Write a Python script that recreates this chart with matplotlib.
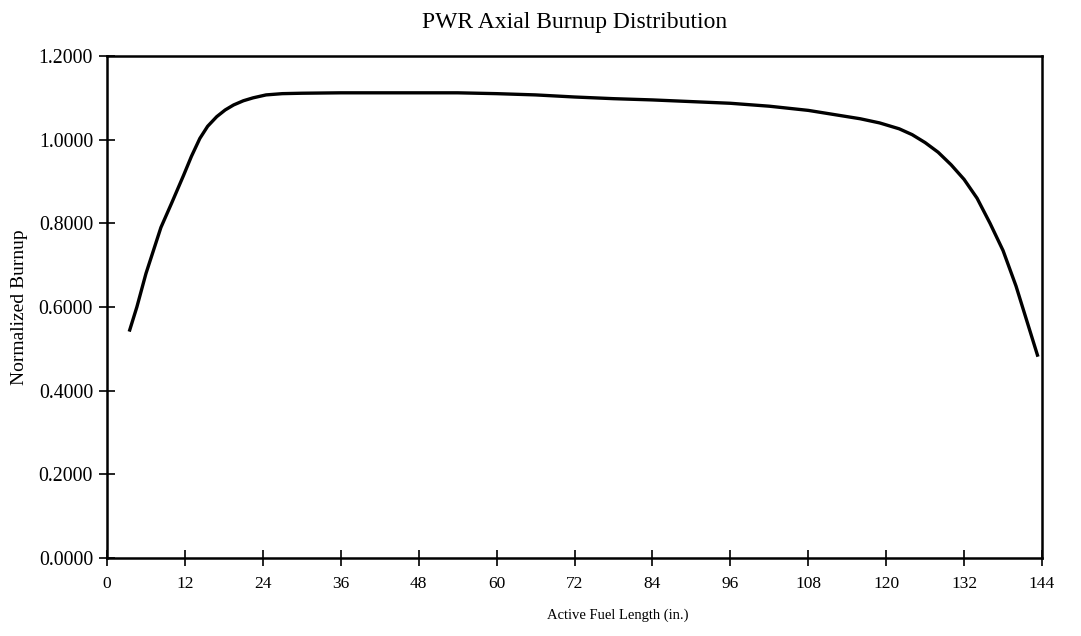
import numpy as np
import matplotlib.pyplot as plt

plt.rcParams['font.family'] = ['Liberation Serif', 'DejaVu Serif']

# position along active fuel (in.) and normalized burnup
longueur = [3.5, 4.6, 6.0, 8.3, 10.0, 11.8, 13.0, 14.3, 15.5, 16.9, 18.2, 19.5,
            21.0, 22.5, 24.5, 27.0, 30.0, 36.0, 42.0, 48.0, 54.0, 60.0, 66.0,
            72.0, 78.0, 84.0, 90.0, 96.0, 102.0, 108.0, 112.0, 116.0, 119.0,
            122.0, 124.0, 126.0, 128.0, 130.0, 132.0, 134.0, 136.0, 138.0,
            140.0, 141.5, 143.3]
burnup = [0.545, 0.600, 0.680, 0.790, 0.850, 0.915, 0.960, 1.003, 1.032, 1.055,
          1.071, 1.083, 1.093, 1.100, 1.107, 1.110, 1.111, 1.112, 1.112, 1.112,
          1.112, 1.110, 1.107, 1.102, 1.098, 1.095, 1.091, 1.087, 1.080, 1.070,
          1.060, 1.050, 1.040, 1.026, 1.012, 0.993, 0.970, 0.940, 0.905, 0.860,
          0.800, 0.735, 0.650, 0.575, 0.485]

xticks = np.arange(0, 145, 12)
yticks = [0.0, 0.2, 0.4, 0.6, 0.8, 1.0, 1.2]
ytick_labels = ['%.4f' % v for v in yticks]

fig = plt.figure(figsize=(10.81, 6.36), dpi=100)
ax = fig.add_axes([107/1081, 1 - 558/636, 935/1081, 502/636])

ax.plot(longueur, burnup, color='black', linewidth=2.4)

ax.set_xlim(0, 144)
ax.set_ylim(0, 1.2)
ax.set_xticks(xticks)
ax.set_yticks(yticks)
ax.set_yticklabels(ytick_labels)
ax.tick_params(axis='both', direction='inout', length=12, width=1.2,
               colors='black')
ax.tick_params(axis='x', pad=7, labelsize=12.5)
ax.tick_params(axis='y', pad=4, labelsize=14.3)
for s in ax.spines.values():
    s.set_linewidth(1.8)

ax.set_title('PWR Axial Burnup Distribution', fontsize=17, pad=20)
ax.set_xlabel('Active Fuel Length (in.)', fontsize=10.5)
ax.xaxis.set_label_coords((618 - 107) / 935, -0.1)
ax.set_ylabel('Normalized Burnup', fontsize=14)
ax.yaxis.set_label_coords(-0.084, 0.5)

fig.savefig('out.png', dpi=100)
